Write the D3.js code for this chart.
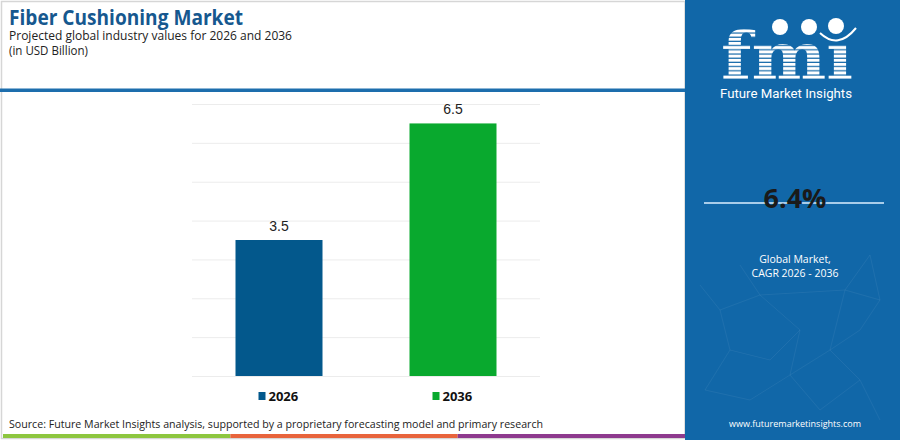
<!DOCTYPE html>
<html>
<head>
<meta charset="utf-8">
<script src="https://cdn.jsdelivr.net/npm/d3@7"></script>
<style>
  body { margin: 0; background: #fff; }
  svg { display: block; font-family: "Open Sans", "Noto Sans", sans-serif; }
</style>
</head>
<body>
<svg id="viz" width="900" height="440"></svg>
<script>
// chart data
var years = ["2026", "2036"];
var values = [3.5, 6.5];
var barColors = ["#03588c", "#09a92e"];
var gridTicks = [0, 1, 2, 3, 4, 5, 6, 7];
var cagr = "6.4%";
var stripeColors = ["#8dc63f", "#e8643c", "#8e3a8e"];

var svg = d3.select("#viz");
var W = 900, H = 440, panelX = 685;

// outer frame of the left part
svg.append("rect")
    .attr("x", 1.5).attr("y", 1.5)
    .attr("width", panelX - 1.5).attr("height", H - 3)
    .attr("fill", "#fff")
    .attr("stroke", "#d6d6d6")
    .attr("stroke-width", 1.5);

// header texts (stretched to the widths seen in the reference)
function fitText(sel, len) {
    sel.attr("textLength", len).attr("lengthAdjust", "spacingAndGlyphs");
    return sel;
}

fitText(svg.append("text")
    .attr("x", 9).attr("y", 25)
    .attr("fill", "#16588f")
    .style("font-size", "21px")
    .style("font-weight", "700")
    .text("Fiber Cushioning Market"), 234);

fitText(svg.append("text")
    .attr("x", 9).attr("y", 40)
    .attr("fill", "#222")
    .style("font-size", "13px")
    .text("Projected global industry values for 2026 and 2036"), 283);

fitText(svg.append("text")
    .attr("x", 9).attr("y", 55)
    .attr("fill", "#222")
    .style("font-size", "13px")
    .text("(in USD Billion)"), 79);

// blue rule under the header
svg.append("rect")
    .attr("x", 0).attr("y", 88.5)
    .attr("width", panelX).attr("height", 3.5)
    .attr("fill", "#1d6ead");

// plot
var x = d3.scaleBand()
    .domain(years)
    .range([192, 540])
    .paddingInner(0.5)
    .paddingOuter(0.25);

var y = d3.scaleLinear()
    .domain([0, 7])
    .range([376, 104]);

svg.append("g")
    .selectAll("line")
    .data(gridTicks)
    .enter().append("line")
    .attr("x1", 192).attr("x2", 540)
    .attr("y1", function(d) { return y(d) + 0.5; })
    .attr("y2", function(d) { return y(d) + 0.5; })
    .attr("stroke", "#ececec")
    .attr("stroke-width", 1);

svg.append("g")
    .selectAll("rect")
    .data(values)
    .enter().append("rect")
    .attr("x", function(d, i) { return x(years[i]); })
    .attr("y", function(d) { return y(d); })
    .attr("width", x.bandwidth())
    .attr("height", function(d) { return y(0) - y(d); })
    .attr("fill", function(d, i) { return barColors[i]; });

svg.append("g")
    .selectAll("text")
    .data(values)
    .enter().append("text")
    .attr("x", function(d, i) { return x(years[i]) + x.bandwidth() / 2; })
    .attr("y", function(d) { return y(d) - 9; })
    .attr("text-anchor", "middle")
    .attr("fill", "#222")
    .style("font-size", "14px")
    .style("font-family", "Liberation Sans, Arial, sans-serif")
    .text(function(d) { return d.toFixed(1); });

// legend
var legend = svg.append("g")
    .selectAll("g")
    .data(years)
    .enter().append("g")
    .attr("transform", function(d) { return "translate(" + (x(d) + 23) + ",396)"; });

legend.append("rect")
    .attr("x", 0).attr("y", -4)
    .attr("width", 7).attr("height", 8)
    .attr("fill", function(d, i) { return barColors[i]; });

legend.append("text")
    .attr("x", 10).attr("y", 5)
    .attr("fill", "#111")
    .style("font-size", "13px")
    .style("font-weight", "700")
    .text(function(d) { return d; });

// source
fitText(svg.append("text")
    .attr("x", 9).attr("y", 428)
    .attr("fill", "#222")
    .style("font-size", "11.5px")
    .text("Source: Future Market Insights analysis, supported by a proprietary forecasting model and primary research"), 534);

// coloured stripe at the bottom
var sx = d3.scaleBand().domain(d3.range(stripeColors.length)).range([3, panelX]);
svg.append("g")
    .selectAll("rect")
    .data(stripeColors)
    .enter().append("rect")
    .attr("x", function(d, i) { return sx(i); })
    .attr("y", 434)
    .attr("width", sx.bandwidth())
    .attr("height", 4)
    .attr("fill", function(d) { return d; });

// right panel
svg.append("rect")
    .attr("x", panelX).attr("y", 0)
    .attr("width", W - panelX).attr("height", H)
    .attr("fill", "#1167a8");

// faint network lines in the background
var net = [[700,285],[720,310],[760,295],[800,330],[770,360],[730,350],[705,390],[750,400],[790,375],[830,350],[860,330],[880,300],[845,290],[860,380],[820,410],[880,420],[740,265],[870,255]];
var links = [[0,1],[1,2],[2,3],[3,4],[4,5],[5,1],[5,6],[6,7],[7,8],[8,3],[8,9],[9,10],[10,11],[11,12],[12,9],[9,13],[13,14],[14,8],[13,15],[16,2],[12,17],[17,11],[2,12]];
svg.append("g")
    .selectAll("line")
    .data(links)
    .enter().append("line")
    .attr("x1", function(d) { return net[d[0]][0]; })
    .attr("y1", function(d) { return net[d[0]][1]; })
    .attr("x2", function(d) { return net[d[1]][0]; })
    .attr("y2", function(d) { return net[d[1]][1]; })
    .attr("stroke", "#ffffff")
    .attr("stroke-opacity", 0.06)
    .attr("stroke-width", 1);

// fmi logo with horizontal stripes
var defs = svg.append("defs");
var pat = defs.append("pattern")
    .attr("id", "stripes")
    .attr("patternUnits", "userSpaceOnUse")
    .attr("width", 10).attr("height", 4.2);
pat.append("rect").attr("width", 10).attr("height", 3).attr("fill", "#fff");

var logo = svg.append("g");
logo.append("text")
    .attr("x", 787).attr("y", 79)
    .attr("text-anchor", "middle")
    .attr("textLength", 132)
    .attr("lengthAdjust", "spacingAndGlyphs")
    .attr("fill", "url(#stripes)")
    .style("font-family", "DejaVu Serif, serif")
    .style("font-weight", "700")
    .style("font-size", "66px")
    .text("fm\u0131");

[[780, 27], [809, 27], [836, 26]].forEach(function(c) {
    logo.append("circle")
        .attr("cx", c[0]).attr("cy", c[1]).attr("r", 8)
        .attr("fill", "#fff");
});
logo.append("path")
    .attr("d", "M820,33 Q838,50 856,28")
    .attr("fill", "none")
    .attr("stroke", "#fff")
    .attr("stroke-width", 2);

svg.append("text")
    .attr("x", 786).attr("y", 98)
    .attr("text-anchor", "middle")
    .attr("fill", "#fff")
    .style("font-size", "13px")
    .style("font-family", "Roboto, sans-serif")
    .attr("textLength", 132)
    .attr("lengthAdjust", "spacingAndGlyphs")
    .text("Future Market Insights");

// CAGR block
svg.append("line")
    .attr("x1", 704).attr("x2", 884)
    .attr("y1", 203).attr("y2", 203)
    .attr("stroke", "#a9cdea")
    .attr("stroke-width", 2);

svg.append("text")
    .attr("x", 795).attr("y", 208)
    .attr("text-anchor", "middle")
    .attr("fill", "#1a1a1a")
    .style("font-size", "27px")
    .style("font-weight", "700")
    .text(cagr);

svg.append("text")
    .attr("x", 795).attr("y", 263)
    .attr("text-anchor", "middle")
    .attr("fill", "#fff")
    .style("font-size", "10.5px")
    .text("Global Market,");

svg.append("text")
    .attr("x", 795).attr("y", 277)
    .attr("text-anchor", "middle")
    .attr("fill", "#fff")
    .style("font-size", "10.5px")
    .text("CAGR 2026 - 2036");

svg.append("text")
    .attr("x", 795).attr("y", 427)
    .attr("text-anchor", "middle")
    .attr("fill", "#fff")
    .style("font-size", "9px")
    .text("www.futuremarketinsights.com");
</script>
</body>
</html>
